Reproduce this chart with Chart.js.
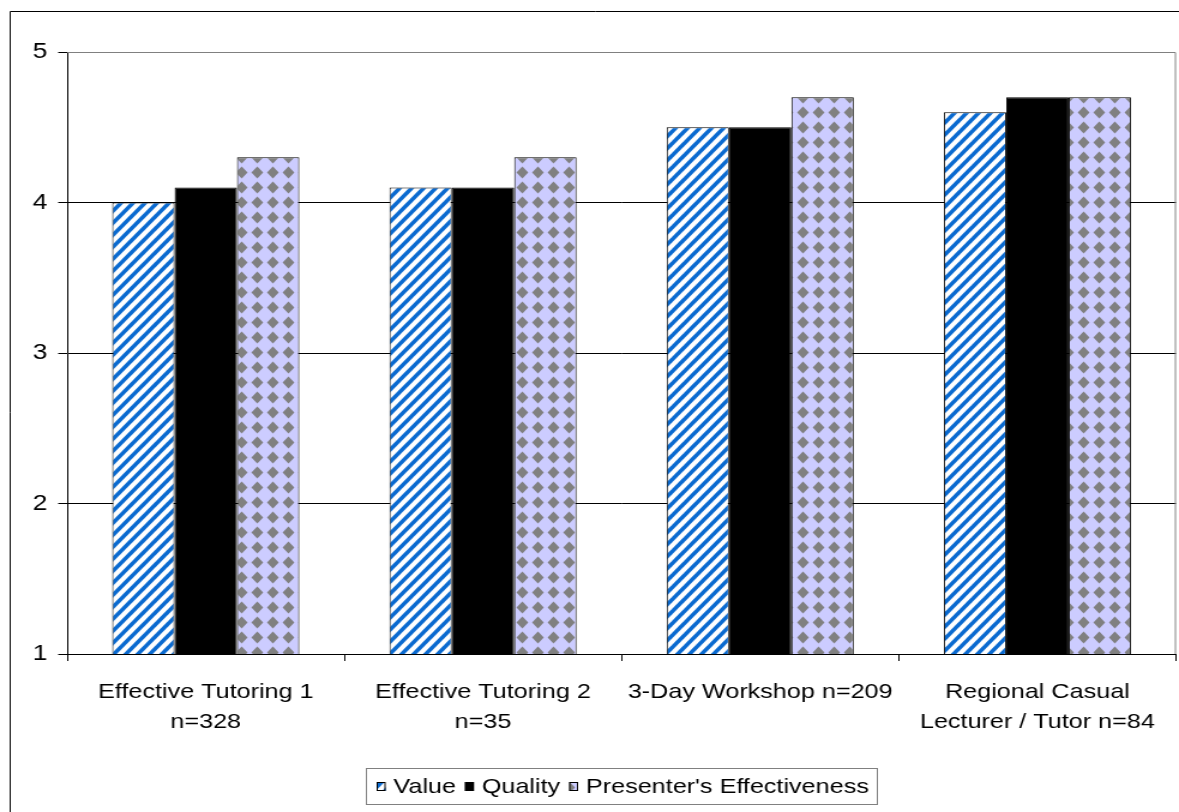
<!DOCTYPE html>
<html>
<head>
<meta charset="utf-8">
<script src="https://cdn.jsdelivr.net/npm/chart.js@4/dist/chart.umd.min.js"></script>
<style>
  html, body { margin: 0; padding: 0; background: #fff; overflow: hidden; }
  #wrap { width: 1179px; height: 812px; position: relative; overflow: hidden; }
  /* the chart is drawn on a narrower canvas and widened to the page */
  #c { position: absolute; left: 0; top: 0; transform-origin: 0 0; }
</style>
</head>
<body>
<div id="wrap"><canvas id="c" width="983" height="812" style="width:983px;height:812px"></canvas></div>
<script>
// Course groups shown along the x axis (each label split over lines)
const categories = [
  ['Effective Tutoring 1', 'n=328'],
  ['Effective Tutoring 2', 'n=35'],
  ['3-Day Workshop n=209'],
  ['Regional Casual', 'Lecturer / Tutor n=84']
];
const seriesNames = ['Value', 'Quality', "Presenter's Effectiveness"];
const valueScores = [4.0, 4.1, 4.5, 4.6];
const qualityScores = [4.1, 4.1, 4.5, 4.7];
const presenterScores = [4.3, 4.3, 4.7, 4.7];
const yTicks = [1, 2, 3, 4, 5];

const FONT = 'Liberation Sans, Arial, sans-serif';
const PAGE_W = 1179;
const canvasEl = document.getElementById('c');
const SX = PAGE_W / canvasEl.width;
canvasEl.style.transform = 'scaleX(' + SX + ')';

// Blue diagonal hatch on white
function stripePattern() {
  const w = 10, h = 12;
  const t = document.createElement('canvas');
  t.width = w; t.height = h;
  const g = t.getContext('2d');
  g.fillStyle = '#fff';
  g.fillRect(0, 0, w, h);
  g.strokeStyle = '#0a6ad0';
  g.lineWidth = 3.6;
  for (const k of [-1, 0, 1]) {
    g.beginPath();
    g.moveTo(k * w - w * 0.2, h * 1.2);
    g.lineTo(k * w + w * 1.2, -h * 0.2);
    g.stroke();
  }
  return g.createPattern(t, 'repeat');
}

// Grey diamonds on lavender
function diamondPattern() {
  const w = 13, h = 15;
  const t = document.createElement('canvas');
  t.width = w; t.height = h;
  const g = t.getContext('2d');
  g.fillStyle = '#ccccff';
  g.fillRect(0, 0, w, h);
  g.fillStyle = '#808080';
  const cx = w / 2, cy = h / 2, rx = 4.9, ry = 5.9;
  g.beginPath();
  g.moveTo(cx, cy - ry); g.lineTo(cx + rx, cy); g.lineTo(cx, cy + ry); g.lineTo(cx - rx, cy);
  g.closePath();
  g.fill();
  return g.createPattern(t, 'repeat');
}

const fills = [stripePattern(), '#000000', diamondPattern()];

// Outer frame, plot frame and a boxed legend
const framePlugin = {
  id: 'frames',
  beforeDatasetsDraw(chart) {
    const ctx = chart.ctx, a = chart.chartArea;
    ctx.save();
    ctx.strokeStyle = '#808080';
    ctx.lineWidth = 1;
    ctx.beginPath();
    ctx.moveTo(a.left, a.top + 0.5);
    ctx.lineTo(a.right - 0.5, a.top + 0.5);
    ctx.lineTo(a.right - 0.5, a.bottom);
    ctx.stroke();
    ctx.restore();
  },
  afterDraw(chart) {
    const ctx = chart.ctx, a = chart.chartArea;
    ctx.save();
    // outer chart border
    ctx.strokeStyle = '#000';
    ctx.lineWidth = 1;
    ctx.beginPath();
    ctx.moveTo(8.5, chart.height + 5);
    ctx.lineTo(8.5, 11.5);
    ctx.lineTo(chart.width + 5, 11.5);
    ctx.stroke();

    // legend
    ctx.font = '21px ' + FONT;
    ctx.textBaseline = 'middle';
    const bw0 = 7.5, bh0 = 9, gapBox = 6.5, gapItem = 7.5, padL = 8.5, padR = 7;
    const widths = seriesNames.map(n => ctx.measureText(n).width);
    let total = 0;
    widths.forEach((w, i) => { total += bw0 + gapBox + w + (i < widths.length - 1 ? gapItem : 0); });
    const cx = (a.left + a.right) / 2;
    const bw = Math.round(total + padL + padR);
    const bx = Math.round(cx - bw / 2) + 0.5;
    const by = 768.5, bh = 36;
    ctx.strokeStyle = '#808080';
    ctx.strokeRect(bx, by, bw, bh);
    let x = bx + padL;
    const cy = by + bh / 2;
    chart.data.datasets.forEach((ds, i) => {
      ctx.fillStyle = ds.backgroundColor;
      ctx.fillRect(x, cy - bh0 / 2, bw0, bh0);
      ctx.strokeStyle = '#000';
      ctx.strokeRect(x + 0.5, cy - bh0 / 2 + 0.5, bw0 - 1, bh0 - 1);
      x += bw0 + gapBox;
      ctx.fillStyle = '#000';
      ctx.textAlign = 'left';
      ctx.fillText(ds.label, x, cy + 1);
      x += widths[i] + gapItem;
    });
    ctx.restore();
  }
};

const seriesData = [valueScores, qualityScores, presenterScores];

new Chart(canvasEl, {
  type: 'bar',
  data: {
    labels: categories,
    datasets: seriesNames.map((name, i) => ({
      label: name,
      data: seriesData[i],
      backgroundColor: fills[i],
      borderColor: '#000',
      borderWidth: 1,
      borderSkipped: false
    }))
  },
  options: {
    responsive: false,
    animation: false,
    devicePixelRatio: 1,
    categoryPercentage: 0.675,
    barPercentage: 1.0,
    layout: { padding: { top: 52, right: 2.5, left: 0, bottom: 0 } },
    plugins: {
      legend: { display: false },
      tooltip: { enabled: false }
    },
    scales: {
      x: {
        offset: true,
        grid: {
          offset: true,
          drawOnChartArea: false,
          drawTicks: true,
          tickLength: 7,
          color: '#000'
        },
        border: { color: '#000', width: 1 },
        ticks: {
          color: '#000',
          font: { family: FONT, size: 21, lineHeight: 1.43 },
          padding: 16,
          maxRotation: 0,
          autoSkip: false
        },
        afterFit(scale) { scale.height = 158; }
      },
      y: {
        min: yTicks[0],
        max: yTicks[yTicks.length - 1],
        afterBuildTicks(scale) { scale.ticks = yTicks.map(v => ({ value: v })); },
        grid: {
          color: ctx => (ctx.tick && ctx.tick.value === 5 ? 'rgba(0,0,0,0)' : '#000'),
          tickColor: '#000',
          tickLength: 7.5,
          lineWidth: 1
        },
        border: { color: '#000', width: 1 },
        ticks: {
          color: '#000',
          font: { family: FONT, size: 22 },
          padding: 9
        },
        afterFit(scale) { scale.width = 56; }
      }
    }
  },
  plugins: [framePlugin]
});
</script>
</body>
</html>
